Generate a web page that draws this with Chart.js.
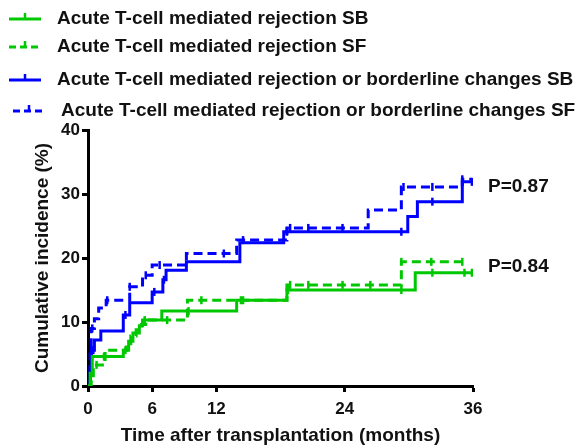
<!DOCTYPE html>
<html>
<head>
<meta charset="utf-8">
<script src="https://cdn.jsdelivr.net/npm/chart.js@4.4.1/dist/chart.umd.min.js"></script>
<style>
  html, body { margin:0; padding:0; background:#fff; }
  #wrap { position:relative; width:579px; height:448px; overflow:hidden; }
  #c { position:absolute; left:0; top:0; }
  .lg { position:absolute; font-family:"Liberation Sans", Arial, sans-serif; font-weight:bold; font-size:19px; color:#111; white-space:nowrap; line-height:22px; }
  .lg svg { position:absolute; }
</style>
</head>
<body>
<div id="wrap">
  <canvas id="c" width="579" height="448"></canvas>
  <div id="legend"></div>
</div>
<script>
// ---- data (months, cumulative incidence %) ----
const seriesNames = [
  "Acute T-cell mediated rejection SB",
  "Acute T-cell mediated rejection SF",
  "Acute T-cell mediated rejection or borderline changes SB",
  "Acute T-cell mediated rejection or borderline changes SF"
];
const greenSBTime = [0, 0.2, 0.4, 3.3, 3.8, 4.2, 4.8, 5.1, 6.9, 13.9, 18.6, 30.6, 35.9];
const greenSBVal  = [0, 2.0, 4.6, 5.6, 7.0, 8.3, 9.4, 10.3, 11.7, 13.4, 15.0, 17.7, 17.7];
const greenSFTime = [0, 0.3, 0.5, 1.6, 3.6, 4.0, 4.5, 5.0, 5.4, 9.3, 18.6, 29.3, 35.3];
const greenSFVal  = [0, 1.6, 3.3, 5.6, 6.6, 7.8, 8.8, 9.6, 10.3, 13.4, 15.8, 19.4, 19.4];
const blueSBTime  = [0, 0.2, 0.3, 0.6, 1.2, 3.3, 3.9, 6.0, 7.0, 7.3, 9.2, 14.2, 18.3, 29.9, 30.8, 35.0, 35.9];
const blueSBVal   = [0, 3.0, 5.6, 7.2, 8.6, 11.1, 13.0, 14.7, 16.6, 18.1, 19.4, 22.4, 24.1, 26.5, 28.8, 31.9, 31.9];
const blueSFTime  = [0, 0.2, 0.3, 0.6, 1.0, 1.7, 3.9, 5.1, 6.0, 9.2, 13.9, 18.6, 26.2, 29.3, 35.0, 35.9];
const blueSFVal   = [0, 5.0, 9.0, 10.5, 12.2, 13.4, 15.5, 17.3, 18.9, 20.7, 22.8, 24.7, 27.5, 31.1, 32.3, 32.3];
// censoring times (tick marks)
const greenSBCens = [1.5, 5.3, 9.4, 14.3, 18.7, 29.3, 32.2, 35.2, 35.9];
const greenSFCens = [0.8, 3.5, 7.4, 10.6, 14.5, 18.9, 20.6, 23.8, 26.4, 29.3, 32.1, 35.0];
const blueSBCens  = [0.3, 0.5, 3.5, 6.2, 7.1, 18.6, 29.3, 32.2, 35.9];
const blueSFCens  = [0.4, 1.8, 3.9, 5.4, 6.7, 12.7, 14.5, 18.9, 20.6, 23.8, 29.5, 32.2, 35.0];
const xTicks = [0, 6, 12, 24, 36];
const yTicks = [0, 10, 20, 30, 40];
const pLabels = ["P=0.87", "P=0.84"];
const pLabelY = [31.2, 18.65];
const xTitle = "Time after transplantation (months)";
const yTitle = "Cumulative incidence (%)";

const GREEN = "#00c800", BLUE = "#0000ff";
const colors = [GREEN, GREEN, BLUE, BLUE];
const dashed = [false, true, false, true];

function pts(t, v) { return t.map((x, i) => ({x: x, y: v[i]})); }
function stepAt(t, v, x) { let y = v[0]; for (let i = 0; i < t.length; i++) { if (t[i] <= x) y = v[i]; } return y; }
function cens(ct, t, v) { return ct.map(x => ({x: x, y: stepAt(t, v, x)})); }

const curves = [[greenSBTime, greenSBVal, greenSBCens], [greenSFTime, greenSFVal, greenSFCens],
                [blueSBTime, blueSBVal, blueSBCens], [blueSFTime, blueSFVal, blueSFCens]];

const datasets = [];
curves.forEach((c, i) => {
  datasets.push({
    type: 'line', label: seriesNames[i], data: pts(c[0], c[1]), stepped: 'before',
    borderColor: colors[i], borderWidth: 3, borderDash: dashed[i] ? [9, 5] : [],
    pointRadius: 0, fill: false, tension: 0, borderCapStyle: 'butt'
  });
});
curves.forEach((c, i) => {
  datasets.push({
    type: 'scatter', label: seriesNames[i] + " censored", data: cens(c[2], c[0], c[1]),
    showLine: false, pointStyle: 'line', rotation: 90, pointRadius: 4, pointHoverRadius: 4,
    borderColor: colors[i], backgroundColor: colors[i], pointBorderWidth: 2.5, borderWidth: 2.5
  });
});

const FONT = "'Liberation Sans', Arial, sans-serif";
const pPlugin = {
  id: 'pvals',
  afterDatasetsDraw(chart) {
    const ctx = chart.ctx, ys = chart.scales.y, area = chart.chartArea;
    ctx.save();
    ctx.font = "bold 19px " + FONT;
    ctx.fillStyle = "#111";
    ctx.textBaseline = "middle";
    pLabels.forEach((s, i) => ctx.fillText(s, area.right + 15, ys.getPixelForValue(pLabelY[i])));
    ctx.restore();
  }
};

const tickFont = { family: FONT, size: 17, weight: 'bold' };
const titleFont = { family: FONT, size: 19, weight: 'bold' };
new Chart(document.getElementById('c'), {
  data: { datasets: datasets },
  options: {
    responsive: false, animation: false,
    layout: { padding: { top: 130, right: 106, left: 0, bottom: 0 } },
    plugins: { legend: { display: false }, tooltip: { enabled: false } },
    scales: {
      x: {
        type: 'linear', min: 0, max: 36,
        afterBuildTicks: s => { s.ticks = xTicks.map(v => ({value: v})); },
        afterFit: s => { s.height = 62; },
        ticks: { color: '#111', font: tickFont, padding: 7, maxRotation: 0 },
        grid: { drawOnChartArea: false, drawTicks: true, tickLength: 6, tickWidth: 3, tickColor: '#000' },
        border: { display: true, color: '#000', width: 3 },
        title: { display: true, text: xTitle, color: '#111', font: titleFont, padding: { top: 0, bottom: 1 } }
      },
      y: {
        type: 'linear', min: 0, max: 40,
        afterBuildTicks: s => { s.ticks = yTicks.map(v => ({value: v})); },
        afterFit: s => { s.width = 88; },
        ticks: { color: '#111', font: tickFont, padding: 2 },
        grid: { drawOnChartArea: false, drawTicks: true, tickLength: 6, tickWidth: 3, tickColor: '#000' },
        border: { display: true, color: '#000', width: 3 },
        title: { display: true, text: yTitle, color: '#111', font: titleFont, padding: { top: 31, bottom: 0 } }
      }
    }
  },
  plugins: [pPlugin]
});

// ---- legend (HTML text) ----
const lgRows = [
  {y: 7,  tx: 57, sx: 9},
  {y: 35, tx: 57, sx: 9},
  {y: 68, tx: 57, sx: 9},
  {y: 99, tx: 61, sx: 13}
];
const lg = document.getElementById('legend');
seriesNames.forEach((name, i) => {
  const r = lgRows[i];
  const d = document.createElement('div');
  d.className = 'lg';
  d.style.left = r.tx + 'px';
  d.style.top = r.y + 'px';
  d.textContent = name;
  lg.appendChild(d);
  const dash = dashed[i] ? 'stroke-dasharray="7 4"' : '';
  const svg = `<svg width="34" height="16" style="left:${r.sx}px;top:${r.y + 2}px;position:absolute">
    <line x1="0" y1="10" x2="32" y2="10" stroke="${colors[i]}" stroke-width="3" ${dash}/>
    <line x1="16" y1="4" x2="16" y2="11" stroke="${colors[i]}" stroke-width="2.5"/></svg>`;
  const w = document.createElement('div');
  w.innerHTML = svg;
  lg.appendChild(w.firstElementChild);
});
</script>
</body>
</html>
